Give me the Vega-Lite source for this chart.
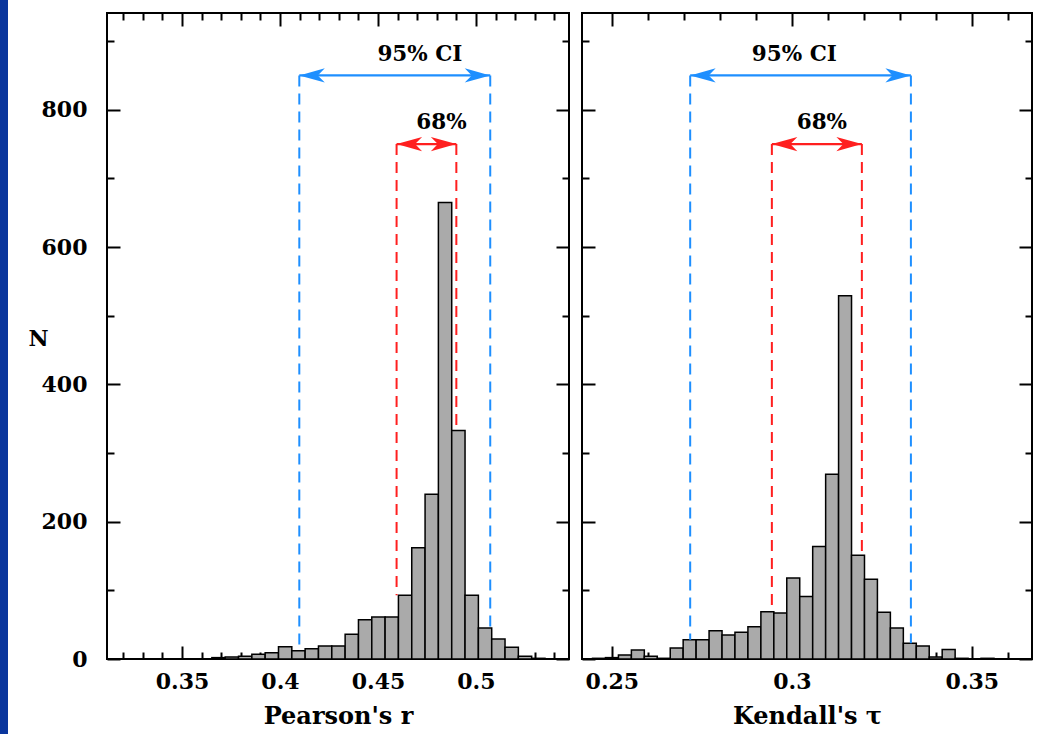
{
  "$schema": "https://vega.github.io/schema/vega-lite/v6.json",
  "padding": 0,
  "background": "white",
  "spacing": 18,
  "config": {
    "view": {"stroke": "black", "strokeWidth": 2},
    "axis": {"grid": false, "domain": false, "tickColor": "black", "tickWidth": 2, "labelFont": "DejaVu Serif", "labelFontSize": 22, "labelFontWeight": "bold", "labelColor": "black", "titleFont": "DejaVu Serif", "titleFontSize": 24, "titleFontWeight": "bold", "titleColor": "black", "labelFlush": false},
    "font": "DejaVu Serif"
  },
  "hconcat": [
    {
      "width": 8,
      "height": 721,
      "view": {"stroke": null},
      "data": {"values": [{"a": 0}]},
      "mark": {"type": "rect", "color": "#0a369d"},
      "encoding": {
        "x": {"datum": 0, "type": "quantitative", "scale": {"domain": [0, 1]}, "axis": null},
        "x2": {"datum": 1},
        "y": {"datum": 0, "type": "quantitative", "scale": {"domain": [0, 1]}, "axis": null},
        "y2": {"datum": 1.018}
      }
    },
    {
      "spacing": 9,
      "hconcat": [
        {
          "width": 462,
          "height": 646,
          "resolve": {"axis": {"x": "independent", "y": "independent"}},
          "layer": [
            {
              "data": {"values": [
                {"lo": 0.36522, "hi": 0.37203, "n": 2},
                {"lo": 0.37203, "hi": 0.37883, "n": 3},
                {"lo": 0.37883, "hi": 0.38563, "n": 4},
                {"lo": 0.38563, "hi": 0.39243, "n": 7},
                {"lo": 0.39243, "hi": 0.39923, "n": 9},
                {"lo": 0.39923, "hi": 0.40603, "n": 18},
                {"lo": 0.40603, "hi": 0.41283, "n": 12},
                {"lo": 0.41283, "hi": 0.41963, "n": 15},
                {"lo": 0.41963, "hi": 0.42643, "n": 19},
                {"lo": 0.42643, "hi": 0.43324, "n": 19},
                {"lo": 0.43324, "hi": 0.44004, "n": 36},
                {"lo": 0.44004, "hi": 0.44684, "n": 57},
                {"lo": 0.44684, "hi": 0.45364, "n": 61},
                {"lo": 0.45364, "hi": 0.46044, "n": 61},
                {"lo": 0.46044, "hi": 0.46724, "n": 93},
                {"lo": 0.46724, "hi": 0.47404, "n": 162},
                {"lo": 0.47404, "hi": 0.48084, "n": 240},
                {"lo": 0.48084, "hi": 0.48764, "n": 665},
                {"lo": 0.48764, "hi": 0.49444, "n": 333},
                {"lo": 0.49444, "hi": 0.50125, "n": 93},
                {"lo": 0.50125, "hi": 0.50805, "n": 45},
                {"lo": 0.50805, "hi": 0.51485, "n": 29},
                {"lo": 0.51485, "hi": 0.52165, "n": 17},
                {"lo": 0.52165, "hi": 0.52845, "n": 4},
                {"lo": 0.52845, "hi": 0.53525, "n": 1}
              ]},
              "mark": {"type": "rect", "fill": "#aaaaaa", "stroke": "black", "strokeWidth": 1.5},
              "encoding": {
                "x": {"field": "lo", "type": "quantitative", "scale": {"domain": [0.3117, 0.5475], "nice": false, "zero": false},
                      "axis": {"orient": "bottom", "values": [0.35, 0.4, 0.45, 0.5], "format": "~g", "ticks": false, "tickSize": 0, "labelPadding": 12, "title": "Pearson's r", "titlePadding": 12}},
                "x2": {"field": "hi"},
                "y": {"field": "n", "type": "quantitative", "scale": {"domain": [0, 941], "nice": false, "zero": false},
                      "axis": {"orient": "left", "values": [0, 200, 400, 600, 800], "format": "d", "ticks": false, "tickSize": 0, "labelPadding": 20, "title": "N", "titleAngle": 0, "titleX": -69, "titleY": 325, "titleAlign": "center", "titleBaseline": "middle", "titleFontSize": 22}},
                "y2": {"datum": 0}
              }
            },
            {
              "data": {"values": [
                {"x": 0.40985, "top": 850, "bot": 12, "ci": "95%"},
                {"x": 0.5073, "top": 850, "bot": 45, "ci": "95%"},
                {"x": 0.4595, "top": 750, "bot": 93, "ci": "68%"},
                {"x": 0.49, "top": 750, "bot": 333, "ci": "68%"}
              ]},
              "mark": {"type": "rule", "strokeWidth": 2, "strokeDash": [11, 7]},
              "encoding": {
                "x": {"field": "x", "type": "quantitative", "scale": {"domain": [0.3117, 0.5475], "nice": false, "zero": false},
                      "axis": {"orient": "bottom", "values": [0.35, 0.4, 0.45, 0.5], "labels": false, "tickSize": -13, "title": null}},
                "y": {"field": "top", "type": "quantitative", "scale": {"domain": [0, 941], "nice": false, "zero": false},
                      "axis": {"orient": "left", "values": [0, 200, 400, 600, 800], "labels": false, "tickSize": -13, "title": null}},
                "y2": {"field": "bot"},
                "color": {"field": "ci", "type": "nominal", "scale": {"domain": ["95%", "68%"], "range": ["#1E8FFF", "#FF1F1F"]}, "legend": null}
              }
            },
            {
              "data": {"values": [
                {"lo": 0.40985, "hi": 0.5073, "y": 850, "ci": "95%"},
                {"lo": 0.4595, "hi": 0.49, "y": 750, "ci": "68%"}
              ]},
              "mark": {"type": "rule", "strokeWidth": 2.2},
              "encoding": {
                "x": {"field": "lo", "type": "quantitative", "scale": {"domain": [0.3117, 0.5475], "nice": false, "zero": false},
                      "axis": {"orient": "bottom", "values": [0.32, 0.33, 0.34, 0.36, 0.37, 0.38, 0.39, 0.41, 0.42, 0.43, 0.44, 0.46, 0.47, 0.48, 0.49, 0.51, 0.52, 0.53, 0.54], "labels": false, "tickSize": -7, "title": null}},
                "x2": {"field": "hi"},
                "y": {"field": "y", "type": "quantitative", "scale": {"domain": [0, 941], "nice": false, "zero": false},
                      "axis": {"orient": "left", "values": [100, 300, 500, 700, 900], "labels": false, "tickSize": -7, "title": null}},
                "color": {"field": "ci", "type": "nominal", "scale": {"domain": ["95%", "68%"], "range": ["#1E8FFF", "#FF1F1F"]}, "legend": null}
              }
            },
            {
              "data": {"values": [
                {"lo": 0.40985, "hi": 0.5073, "y": 850, "ci": "95%"},
                {"lo": 0.4595, "hi": 0.49, "y": 750, "ci": "68%"}
              ]},
              "mark": {"type": "point", "shape": "M0,0L2,-0.56L1.45,0L2,0.56Z", "size": 650, "filled": true, "opacity": 1, "strokeWidth": 0},
              "encoding": {
                "x": {"field": "lo", "type": "quantitative", "scale": {"domain": [0.3117, 0.5475], "nice": false, "zero": false},
                      "axis": {"orient": "top", "values": [0.35, 0.4, 0.45, 0.5], "labels": false, "tickSize": -13, "title": null}},
                "y": {"field": "y", "type": "quantitative", "scale": {"domain": [0, 941], "nice": false, "zero": false},
                      "axis": {"orient": "right", "values": [0, 200, 400, 600, 800], "labels": false, "tickSize": -13, "title": null}},
                "color": {"field": "ci", "type": "nominal", "scale": {"domain": ["95%", "68%"], "range": ["#1E8FFF", "#FF1F1F"]}, "legend": null}
              }
            },
            {
              "data": {"values": [
                {"lo": 0.40985, "hi": 0.5073, "y": 850, "ci": "95%"},
                {"lo": 0.4595, "hi": 0.49, "y": 750, "ci": "68%"}
              ]},
              "mark": {"type": "point", "shape": "M0,0L-2,-0.56L-1.45,0L-2,0.56Z", "size": 650, "filled": true, "opacity": 1, "strokeWidth": 0},
              "encoding": {
                "x": {"field": "hi", "type": "quantitative", "scale": {"domain": [0.3117, 0.5475], "nice": false, "zero": false},
                      "axis": {"orient": "top", "values": [0.32, 0.33, 0.34, 0.36, 0.37, 0.38, 0.39, 0.41, 0.42, 0.43, 0.44, 0.46, 0.47, 0.48, 0.49, 0.51, 0.52, 0.53, 0.54], "labels": false, "tickSize": -7, "title": null}},
                "y": {"field": "y", "type": "quantitative", "scale": {"domain": [0, 941], "nice": false, "zero": false},
                      "axis": {"orient": "right", "values": [100, 300, 500, 700, 900], "labels": false, "tickSize": -7, "title": null}},
                "color": {"field": "ci", "type": "nominal", "scale": {"domain": ["95%", "68%"], "range": ["#1E8FFF", "#FF1F1F"]}, "legend": null}
              }
            },
            {
              "data": {"values": [
                {"x": 0.4714, "y": 880, "t": "95% CI"},
                {"x": 0.4824, "y": 781, "t": "68%"}
              ]},
              "mark": {"type": "text", "font": "DejaVu Serif", "fontSize": 21.5, "fontWeight": "bold", "align": "center", "baseline": "middle", "color": "black"},
              "encoding": {
                "x": {"field": "x", "type": "quantitative", "scale": {"domain": [0.3117, 0.5475], "nice": false, "zero": false}, "axis": null},
                "y": {"field": "y", "type": "quantitative", "scale": {"domain": [0, 941], "nice": false, "zero": false}, "axis": null},
                "text": {"field": "t"}
              }
            }
          ]
        },
        {
          "width": 450,
          "height": 646,
          "resolve": {"axis": {"x": "independent", "y": "independent"}},
          "layer": [
            {
              "data": {"values": [
                {"lo": 0.24462, "hi": 0.24822, "n": 1},
                {"lo": 0.24822, "hi": 0.25182, "n": 2},
                {"lo": 0.25182, "hi": 0.25542, "n": 6},
                {"lo": 0.25542, "hi": 0.25901, "n": 13},
                {"lo": 0.25901, "hi": 0.26261, "n": 4},
                {"lo": 0.26261, "hi": 0.26621, "n": 1},
                {"lo": 0.26621, "hi": 0.2698, "n": 16},
                {"lo": 0.2698, "hi": 0.2734, "n": 28},
                {"lo": 0.2734, "hi": 0.277, "n": 28},
                {"lo": 0.277, "hi": 0.2806, "n": 41},
                {"lo": 0.2806, "hi": 0.28419, "n": 35},
                {"lo": 0.28419, "hi": 0.28779, "n": 39},
                {"lo": 0.28779, "hi": 0.29139, "n": 47},
                {"lo": 0.29139, "hi": 0.29499, "n": 69},
                {"lo": 0.29499, "hi": 0.29858, "n": 67},
                {"lo": 0.29858, "hi": 0.30218, "n": 118},
                {"lo": 0.30218, "hi": 0.30578, "n": 91},
                {"lo": 0.30578, "hi": 0.30938, "n": 164},
                {"lo": 0.30938, "hi": 0.31297, "n": 269},
                {"lo": 0.31297, "hi": 0.31657, "n": 529},
                {"lo": 0.31657, "hi": 0.32017, "n": 151},
                {"lo": 0.32017, "hi": 0.32376, "n": 116},
                {"lo": 0.32376, "hi": 0.32736, "n": 68},
                {"lo": 0.32736, "hi": 0.33096, "n": 45},
                {"lo": 0.33096, "hi": 0.33456, "n": 23},
                {"lo": 0.33456, "hi": 0.33815, "n": 19},
                {"lo": 0.33815, "hi": 0.34175, "n": 3},
                {"lo": 0.34175, "hi": 0.34535, "n": 14},
                {"lo": 0.34535, "hi": 0.34895, "n": 1},
                {"lo": 0.35254, "hi": 0.35614, "n": 1}
              ]},
              "mark": {"type": "rect", "fill": "#aaaaaa", "stroke": "black", "strokeWidth": 1.5},
              "encoding": {
                "x": {"field": "lo", "type": "quantitative", "scale": {"domain": [0.2417, 0.3667], "nice": false, "zero": false},
                      "axis": {"orient": "bottom", "values": [0.25, 0.3, 0.35], "format": "~g", "ticks": false, "tickSize": 0, "labelPadding": 12, "title": "Kendall's τ", "titlePadding": 12}},
                "x2": {"field": "hi"},
                "y": {"field": "n", "type": "quantitative", "scale": {"domain": [0, 941], "nice": false, "zero": false}, "axis": null},
                "y2": {"datum": 0}
              }
            },
            {
              "data": {"values": [
                {"x": 0.27175, "top": 850, "bot": 28, "ci": "95%"},
                {"x": 0.33306, "top": 850, "bot": 23, "ci": "95%"},
                {"x": 0.29444, "top": 750, "bot": 69, "ci": "68%"},
                {"x": 0.31944, "top": 750, "bot": 151, "ci": "68%"}
              ]},
              "mark": {"type": "rule", "strokeWidth": 2, "strokeDash": [11, 7]},
              "encoding": {
                "x": {"field": "x", "type": "quantitative", "scale": {"domain": [0.2417, 0.3667], "nice": false, "zero": false},
                      "axis": {"orient": "bottom", "values": [0.25, 0.3, 0.35], "labels": false, "tickSize": -13, "title": null}},
                "y": {"field": "top", "type": "quantitative", "scale": {"domain": [0, 941], "nice": false, "zero": false},
                      "axis": {"orient": "left", "values": [0, 200, 400, 600, 800], "labels": false, "tickSize": -13, "title": null}},
                "y2": {"field": "bot"},
                "color": {"field": "ci", "type": "nominal", "scale": {"domain": ["95%", "68%"], "range": ["#1E8FFF", "#FF1F1F"]}, "legend": null}
              }
            },
            {
              "data": {"values": [
                {"lo": 0.27175, "hi": 0.33306, "y": 850, "ci": "95%"},
                {"lo": 0.29444, "hi": 0.31944, "y": 750, "ci": "68%"}
              ]},
              "mark": {"type": "rule", "strokeWidth": 2.2},
              "encoding": {
                "x": {"field": "lo", "type": "quantitative", "scale": {"domain": [0.2417, 0.3667], "nice": false, "zero": false},
                      "axis": {"orient": "bottom", "values": [0.26, 0.27, 0.28, 0.29, 0.31, 0.32, 0.33, 0.34, 0.36], "labels": false, "tickSize": -7, "title": null}},
                "x2": {"field": "hi"},
                "y": {"field": "y", "type": "quantitative", "scale": {"domain": [0, 941], "nice": false, "zero": false},
                      "axis": {"orient": "left", "values": [100, 300, 500, 700, 900], "labels": false, "tickSize": -7, "title": null}},
                "color": {"field": "ci", "type": "nominal", "scale": {"domain": ["95%", "68%"], "range": ["#1E8FFF", "#FF1F1F"]}, "legend": null}
              }
            },
            {
              "data": {"values": [
                {"lo": 0.27175, "hi": 0.33306, "y": 850, "ci": "95%"},
                {"lo": 0.29444, "hi": 0.31944, "y": 750, "ci": "68%"}
              ]},
              "mark": {"type": "point", "shape": "M0,0L2,-0.56L1.45,0L2,0.56Z", "size": 650, "filled": true, "opacity": 1, "strokeWidth": 0},
              "encoding": {
                "x": {"field": "lo", "type": "quantitative", "scale": {"domain": [0.2417, 0.3667], "nice": false, "zero": false},
                      "axis": {"orient": "top", "values": [0.25, 0.3, 0.35], "labels": false, "tickSize": -13, "title": null}},
                "y": {"field": "y", "type": "quantitative", "scale": {"domain": [0, 941], "nice": false, "zero": false},
                      "axis": {"orient": "right", "values": [0, 200, 400, 600, 800], "labels": false, "tickSize": -13, "title": null}},
                "color": {"field": "ci", "type": "nominal", "scale": {"domain": ["95%", "68%"], "range": ["#1E8FFF", "#FF1F1F"]}, "legend": null}
              }
            },
            {
              "data": {"values": [
                {"lo": 0.27175, "hi": 0.33306, "y": 850, "ci": "95%"},
                {"lo": 0.29444, "hi": 0.31944, "y": 750, "ci": "68%"}
              ]},
              "mark": {"type": "point", "shape": "M0,0L-2,-0.56L-1.45,0L-2,0.56Z", "size": 650, "filled": true, "opacity": 1, "strokeWidth": 0},
              "encoding": {
                "x": {"field": "hi", "type": "quantitative", "scale": {"domain": [0.2417, 0.3667], "nice": false, "zero": false},
                      "axis": {"orient": "top", "values": [0.26, 0.27, 0.28, 0.29, 0.31, 0.32, 0.33, 0.34, 0.36], "labels": false, "tickSize": -7, "title": null}},
                "y": {"field": "y", "type": "quantitative", "scale": {"domain": [0, 941], "nice": false, "zero": false},
                      "axis": {"orient": "right", "values": [100, 300, 500, 700, 900], "labels": false, "tickSize": -7, "title": null}},
                "color": {"field": "ci", "type": "nominal", "scale": {"domain": ["95%", "68%"], "range": ["#1E8FFF", "#FF1F1F"]}, "legend": null}
              }
            },
            {
              "data": {"values": [
                {"x": 0.30069, "y": 880, "t": "95% CI"},
                {"x": 0.30833, "y": 781, "t": "68%"}
              ]},
              "mark": {"type": "text", "font": "DejaVu Serif", "fontSize": 21.5, "fontWeight": "bold", "align": "center", "baseline": "middle", "color": "black"},
              "encoding": {
                "x": {"field": "x", "type": "quantitative", "scale": {"domain": [0.2417, 0.3667], "nice": false, "zero": false}, "axis": null},
                "y": {"field": "y", "type": "quantitative", "scale": {"domain": [0, 941], "nice": false, "zero": false}, "axis": null},
                "text": {"field": "t"}
              }
            }
          ]
        }
      ]
    }
  ]
}
